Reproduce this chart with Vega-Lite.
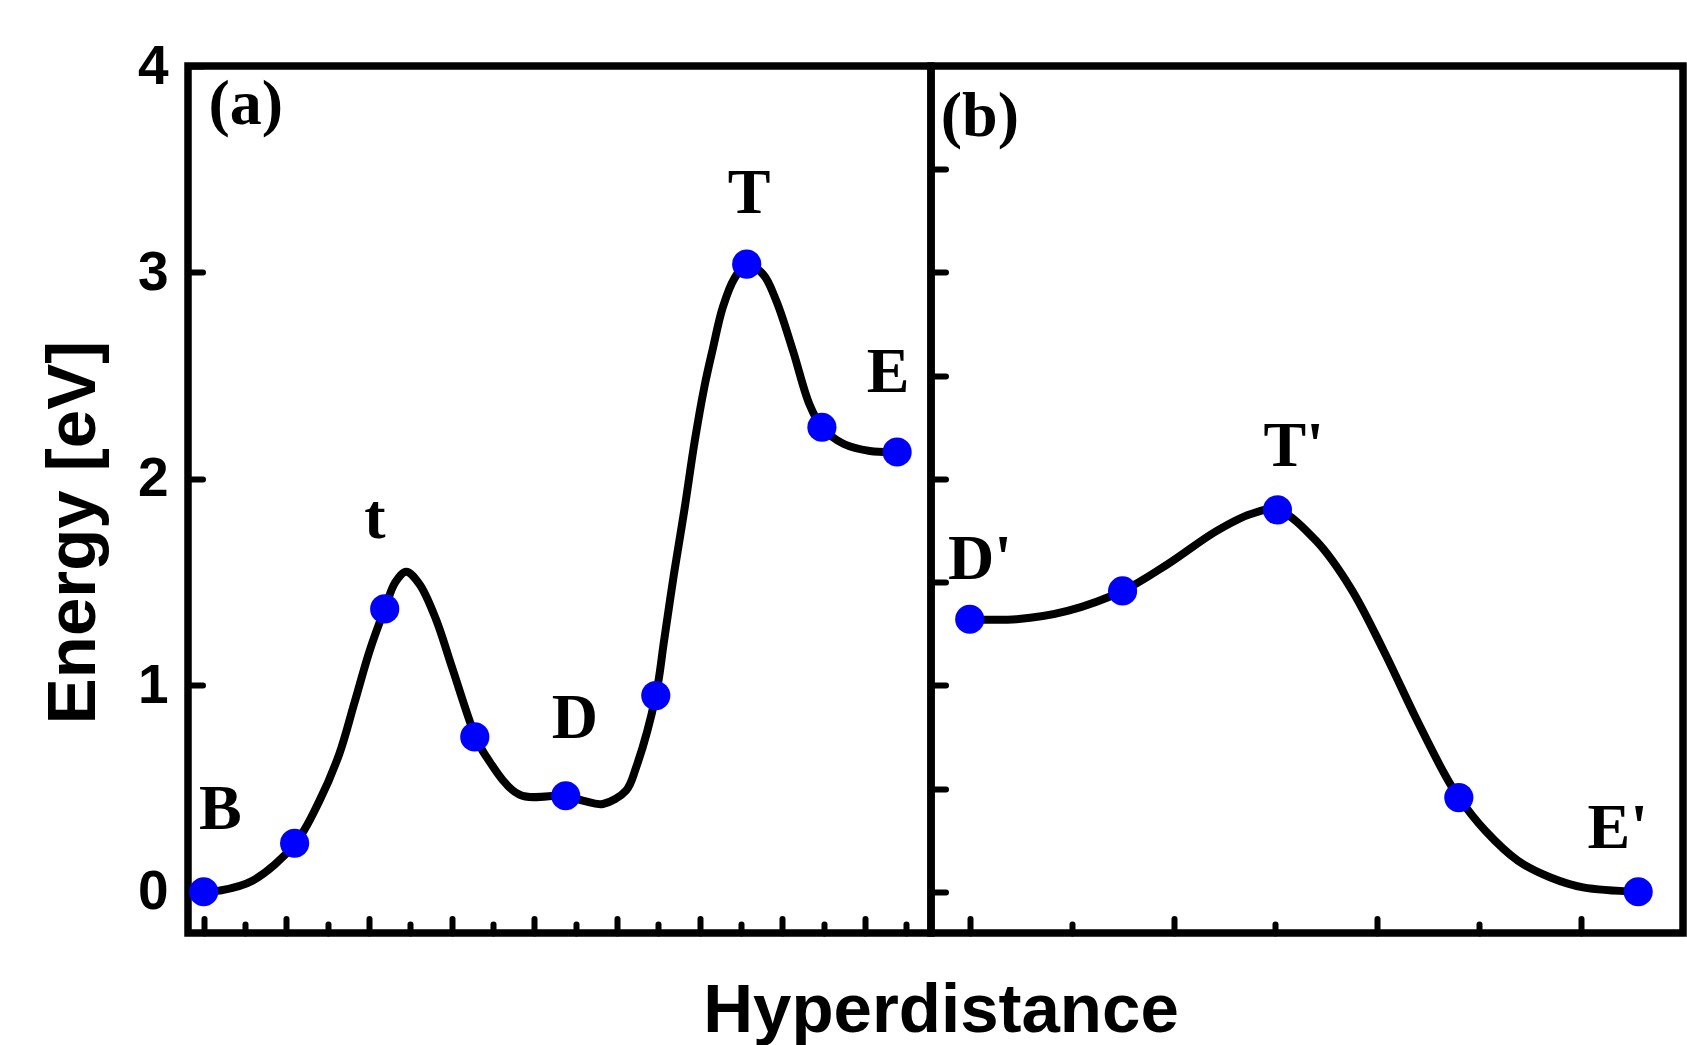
{
  "$schema": "https://vega.github.io/schema/vega-lite/v6.json",
  "padding": {"left": 35, "top": 35, "right": 0, "bottom": 0},
  "background": "white",
  "datasets": {
    "curveA": [
      {"x": 0, "y": 0}, {"x": 0.19, "y": 0.005}, {"x": 0.59, "y": 0.053}, {"x": 1.10, "y": 0.23},
      {"x": 1.40, "y": 0.44}, {"x": 1.64, "y": 0.667}, {"x": 1.82, "y": 0.91}, {"x": 2.01, "y": 1.17},
      {"x": 2.19, "y": 1.37}, {"x": 2.32, "y": 1.50}, {"x": 2.45, "y": 1.55}, {"x": 2.61, "y": 1.49},
      {"x": 2.81, "y": 1.32}, {"x": 3.01, "y": 1.08}, {"x": 3.29, "y": 0.75}, {"x": 3.41, "y": 0.66},
      {"x": 3.82, "y": 0.47}, {"x": 4.38, "y": 0.465}, {"x": 4.6, "y": 0.44}, {"x": 4.83, "y": 0.425},
      {"x": 5.11, "y": 0.49}, {"x": 5.23, "y": 0.60}, {"x": 5.47, "y": 0.95}, {"x": 5.57, "y": 1.215},
      {"x": 5.69, "y": 1.54}, {"x": 5.82, "y": 1.86}, {"x": 5.94, "y": 2.18}, {"x": 6.06, "y": 2.45},
      {"x": 6.16, "y": 2.63}, {"x": 6.28, "y": 2.83}, {"x": 6.42, "y": 2.97}, {"x": 6.57, "y": 3.04},
      {"x": 6.77, "y": 2.99}, {"x": 6.93, "y": 2.86}, {"x": 7.13, "y": 2.62}, {"x": 7.33, "y": 2.36},
      {"x": 7.48, "y": 2.25}, {"x": 7.74, "y": 2.17}, {"x": 8.06, "y": 2.135}, {"x": 8.39, "y": 2.13}
    ],
    "pointsA": [
      {"x": 0, "y": 0}, {"x": 1.10, "y": 0.235}, {"x": 2.19, "y": 1.37}, {"x": 3.28, "y": 0.75},
      {"x": 4.38, "y": 0.465}, {"x": 5.47, "y": 0.95}, {"x": 6.57, "y": 3.04}, {"x": 7.48, "y": 2.25},
      {"x": 8.39, "y": 2.13}
    ],
    "labelsA": [
      {"x": 0.20, "y": 0.305, "label": "B"}, {"x": 2.07, "y": 1.713, "label": "t"},
      {"x": 4.49, "y": 0.745, "label": "D"}, {"x": 6.60, "y": 3.29, "label": "T"},
      {"x": 8.28, "y": 2.42, "label": "E"}, {"x": 0.51, "y": 3.72, "label": "(a)"}
    ],
    "curveB": [
      {"x": 0, "y": 1.32}, {"x": 0.23, "y": 1.32}, {"x": 0.48, "y": 1.36}, {"x": 0.75, "y": 1.457},
      {"x": 0.97, "y": 1.586}, {"x": 1.21, "y": 1.747}, {"x": 1.38, "y": 1.83}, {"x": 1.51, "y": 1.85},
      {"x": 1.70, "y": 1.70}, {"x": 1.87, "y": 1.47}, {"x": 2.03, "y": 1.17}, {"x": 2.19, "y": 0.84},
      {"x": 2.33, "y": 0.57}, {"x": 2.40, "y": 0.456}, {"x": 2.53, "y": 0.295}, {"x": 2.69, "y": 0.15},
      {"x": 2.85, "y": 0.069}, {"x": 3.01, "y": 0.021}, {"x": 3.28, "y": 0}
    ],
    "pointsB": [
      {"x": 0, "y": 1.32}, {"x": 0.75, "y": 1.457}, {"x": 1.51, "y": 1.85}, {"x": 2.40, "y": 0.456},
      {"x": 3.28, "y": 0}
    ],
    "labelsB": [
      {"x": 0.05, "y": 1.515, "label": "D'"}, {"x": 1.59, "y": 2.06, "label": "T'"},
      {"x": 3.18, "y": 0.21, "label": "E'"}, {"x": 0.05, "y": 3.66, "label": "(b)"}
    ]
  },
  "spacing": 0,
  "bounds": "flush",
  "hconcat": [
    {
      "width": 743,
      "height": 867,
      "encoding": {
        "x": {
          "field": "x", "type": "quantitative",
          "scale": {"domain": [-0.19, 8.8], "nice": false, "zero": false},
          "axis": {
            "values": [0, 0.5, 1, 1.5, 2, 2.5, 3, 3.5, 4, 4.5, 5, 5.5, 6, 6.5, 7, 7.5, 8, 8.5],
            "labels": false,
            "tickSize": {"condition": {"test": "datum.value % 1 === 0", "value": -14.5}, "value": -9},
            "title": "Hyperdistance",
            "titleX": 752.5, "titleY": 98,
            "titleAlign": "center", "titleBaseline": "alphabetic", "titleAngle": 0
          }
        },
        "y": {
          "field": "y", "type": "quantitative",
          "scale": {"domain": [-0.2, 4], "nice": false, "zero": false},
          "axis": {
            "values": [0, 0.5, 1, 1.5, 2, 2.5, 3, 3.5, 4],
            "format": "d",
            "labelExpr": "datum.value % 1 === 0 ? datum.label : ''",
            "tickSize": {"condition": {"test": "datum.value % 1 === 0", "value": -14.5}, "value": -9},
            "labelPadding": 34.5,
            "title": "Energy [eV]",
            "titleX": -94, "titleY": 466,
            "titleAlign": "center", "titleBaseline": "alphabetic", "titleAngle": -90
          }
        }
      },
      "layer": [
        {"data": {"name": "curveA"}, "mark": {"type": "line", "interpolate": "catmull-rom", "stroke": "black", "strokeWidth": 8}, "encoding": {}},
        {"data": {"name": "pointsA"}, "mark": {"type": "point", "shape": "circle", "filled": true, "fill": "#0000FF", "opacity": 1, "size": 850, "strokeWidth": 0}, "encoding": {}},
        {"data": {"name": "labelsA"}, "mark": {"type": "text", "font": "Liberation Serif", "fontWeight": "bold", "fontSize": 64, "align": "center", "baseline": "alphabetic", "color": "black"}, "encoding": {"text": {"field": "label"}}}
      ]
    },
    {
      "width": 752,
      "height": 867,
      "encoding": {
        "x": {
          "field": "x", "type": "quantitative",
          "scale": {"domain": [-0.19, 3.5], "nice": false, "zero": false},
          "axis": {
            "values": [0, 0.5, 1, 1.5, 2, 2.5, 3],
            "labels": false,
            "tickSize": {"condition": {"test": "datum.value % 1 === 0", "value": -14.5}, "value": -9},
            "title": null
          }
        },
        "y": {
          "field": "y", "type": "quantitative",
          "scale": {"domain": [-0.2, 4], "nice": false, "zero": false},
          "axis": {
            "values": [0, 0.5, 1, 1.5, 2, 2.5, 3, 3.5],
            "labels": false,
            "tickSize": -14.5,
            "title": null
          }
        }
      },
      "layer": [
        {"data": {"name": "curveB"}, "mark": {"type": "line", "interpolate": "catmull-rom", "stroke": "black", "strokeWidth": 8}, "encoding": {}},
        {"data": {"name": "pointsB"}, "mark": {"type": "point", "shape": "circle", "filled": true, "fill": "#0000FF", "opacity": 1, "size": 850, "strokeWidth": 0}, "encoding": {}},
        {"data": {"name": "labelsB"}, "mark": {"type": "text", "font": "Liberation Serif", "fontWeight": "bold", "fontSize": 64, "align": "center", "baseline": "alphabetic", "color": "black"}, "encoding": {"text": {"field": "label"}}}
      ]
    }
  ],
  "config": {
    "view": {"stroke": "black", "strokeWidth": 7.5},
    "axis": {
      "domain": false, "grid": false,
      "tickColor": "black", "tickWidth": 6, "tickCap": "round",
      "labelFont": "Liberation Sans", "labelFontWeight": "bold", "labelFontSize": 55, "labelColor": "black",
      "titleFont": "Liberation Sans", "titleFontWeight": "bold", "titleFontSize": 69, "titleColor": "black"
    }
  }
}
